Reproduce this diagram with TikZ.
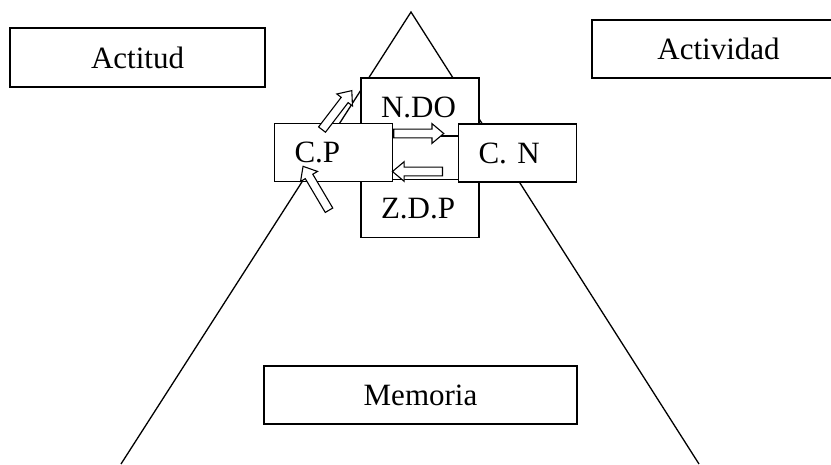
\documentclass[tikz,border=0pt]{standalone}
\usepackage{fontspec}
\setmainfont{Liberation Serif}
\usepackage{tikz}
\usetikzlibrary{shapes,arrows,positioning,calc}

\tikzset{
    caja/.style={draw, fill=white, line width=1.4pt, inner sep=0pt, font={\fontsize{31}{37}\selectfont}},
    cajita/.style={caja, minimum height=58pt, text width=78pt, inner xsep=20pt, align=left},
    flecha/.style={single arrow, draw, fill=white, line width=1.1pt, inner sep=3.8pt,
        single arrow head extend=5.5pt, single arrow tip angle=80, anchor=tail}
}

\begin{document}
\begin{tikzpicture}[x=1pt, y=-1pt]
    \useasboundingbox (0,0) rectangle (831,464);

    % triangulo
    \coordinate (cima) at (411,12);
    \coordinate (baseizq) at (121,464);
    \coordinate (baseder) at (699,464);
    \draw[line width=1.3pt] (baseizq) -- (cima) -- (baseder);

    % cajas de arriba y abajo
    \node[caja, minimum width=255pt, minimum height=59pt] (actitud) at (137.5,57.5) {Actitud};
    \node[caja, minimum width=253pt, minimum height=58pt] (actividad) at (718.5,49) {Actividad};
    \node[caja, minimum width=313pt, minimum height=58pt] (memoria) at (420.5,395) {Memoria};

    % cajas del centro
    \node[cajita] (ndo) at (420,107) {N.DO};
    \node[cajita] (zdp) at (420,208.5) {Z.D.P};
    \node[cajita] (cp) at (333.5,152.5) {C.P};
    \node[cajita] (cn) at (517.5,153) {C. N};

    % flechas
    \node[flecha, minimum height=50pt] (f1) at (cp.east |- 0,133.5) {};
    \node[flecha, minimum height=50pt, rotate=180] (f2) at (443,171.5) {};
    \node[flecha, minimum height=49pt, rotate=52.6] (f3) at (321.7,130) {};
    \node[flecha, minimum height=51pt, rotate=120.6] (f4) at (329.3,210.7) {};
\end{tikzpicture}
\end{document}
